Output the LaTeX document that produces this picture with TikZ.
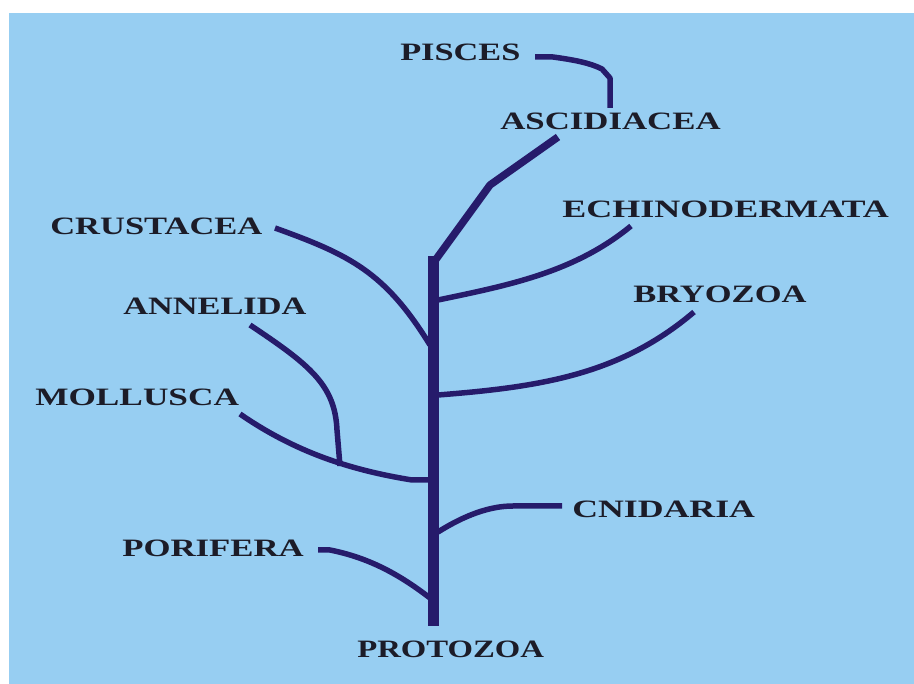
\documentclass[tikz,border=0pt]{standalone}
\usepackage{fontspec}
\setmainfont{Liberation Serif}
\definecolor{bgblue}{HTML}{97CEF2}
\definecolor{navy}{HTML}{261B6B}
\definecolor{ink}{HTML}{1C1C28}
\begin{document}
\begin{tikzpicture}[x=1pt,y=-1pt,
  lbl/.style={font=\fontsize{25}{25}\selectfont\bfseries, text=ink, inner sep=0pt, anchor=base west},
  branch/.style={draw=navy, line width=5.5pt, line join=round},
  trunkline/.style={draw=navy, line width=11pt}]
\useasboundingbox (0,0) rectangle (914,684);
\fill[white] (0,0) rectangle (914,684);
\fill[bgblue] (9,13) rectangle (914,684);
% labels
\node[lbl, xscale=1.373] (pisces) at (400,61) {PISCES};
\node[lbl, xscale=1.392] (ascid) at (500,130) {ASCIDIACEA};
\node[lbl, xscale=1.44] (echino) at (562,218) {ECHINODERMATA};
\node[lbl, xscale=1.38] (crust) at (50,235) {CRUSTACEA};
\node[lbl, xscale=1.38] (bryo) at (633,303) {BRYOZOA};
\node[lbl, xscale=1.373] (annel) at (123,315) {ANNELIDA};
\node[lbl, xscale=1.41] (mollu) at (35,406) {MOLLUSCA};
\node[lbl, xscale=1.43] (cnid) at (572,518) {CNIDARIA};
\node[lbl, xscale=1.39] (porif) at (122,557) {PORIFERA};
\node[lbl, xscale=1.31] (proto) at (357,657) {PROTOZOA};
% junction coordinates
\coordinate (top) at (433,256);
\coordinate (bottom) at (433,626);
\coordinate (pisA) at (535,57);
\coordinate (pisB) at (610,108);
\coordinate (ascA) at (558,137);
\coordinate (echA) at (631,226);
\coordinate (echJ) at (438,300);
\coordinate (bryA) at (694,312);
\coordinate (bryJ) at (438,395);
\coordinate (cruA) at (275,228);
\coordinate (cruJ) at (430,345);
\coordinate (annA) at (250,325);
\coordinate (annJ) at (340,466);
\coordinate (molA) at (240,414);
\coordinate (molJ) at (430,480);
\coordinate (cniA) at (562,506);
\coordinate (cniJ) at (438,532);
\coordinate (porA) at (318,550);
\coordinate (porJ) at (430,598);
% trunk
\draw[trunkline] (top) -- (bottom);
% branches
\draw[branch] (pisA) -- (553,57) .. controls (575,60) and (590,63) .. (602,69) -- (610,78) -- (pisB);
\draw[branch, line width=7.5pt] (434,262) -- (490,185) -- (ascA);
\draw[branch] (echJ) .. controls (510,285) and (575,272) .. (echA);
\draw[branch] (bryJ) .. controls (540,387) and (620,375) .. (bryA);
\draw[branch] (cruA) .. controls (350,255) and (385,272) .. (cruJ);
\draw[branch] (annA) .. controls (310,365) and (335,385) .. (337,430) -- (annJ);
\draw[branch] (molA) .. controls (295,452) and (350,470) .. (412,480) -- (molJ);
\draw[branch] (cniJ) .. controls (465,515) and (490,506) .. (513,506) -- (cniA);
\draw[branch] (porA) -- (330,550) .. controls (370,558) and (400,575) .. (porJ);
\end{tikzpicture}
\end{document}
